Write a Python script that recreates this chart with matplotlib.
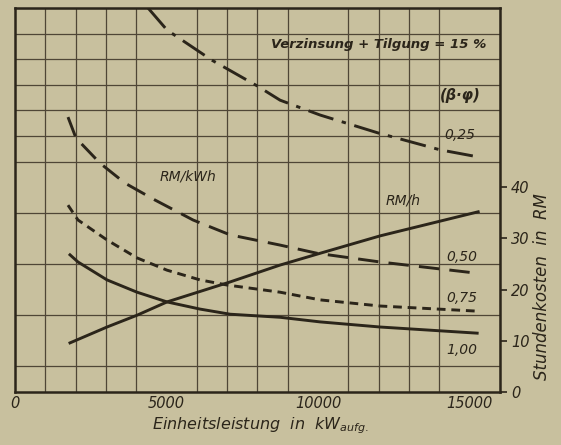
import matplotlib.pyplot as plt

# Einheitsleistung in kW (x) and cost values read in units of the right axis grid
x_025 = [4390, 5016, 6500, 7987, 8746, 10066, 11980, 14026, 15116]
y_025 = [75.0, 70.7, 64.8, 59.8, 57.0, 54.1, 50.6, 47.3, 46.1]

x_050 = [1749, 2013, 2805, 3630, 4620, 5875, 7096, 8746, 9967, 12046, 15248]
y_050 = [53.7, 49.6, 44.7, 40.8, 37.5, 33.6, 30.7, 28.7, 27.1, 25.4, 23.2]

x_075 = [1749, 2079, 3036, 4026, 5016, 6106, 6997, 8746, 10066, 12046, 15248]
y_075 = [36.5, 33.6, 29.7, 26.2, 23.8, 21.9, 20.9, 19.5, 18.0, 16.8, 15.8]

x_100 = [1815, 2079, 3036, 4026, 5016, 6106, 7096, 8746, 10066, 12046, 15248]
y_100 = [26.8, 25.4, 21.9, 19.5, 17.6, 16.2, 15.2, 14.6, 13.7, 12.7, 11.5]

x_rmh = [1815, 3036, 4026, 5016, 7096, 8746, 10066, 12046, 15281]
y_rmh = [9.6, 12.7, 15.0, 17.6, 21.5, 24.8, 27.1, 30.5, 35.2]

x_ticks = [0, 5000, 10000, 15000]
x_ticklabels = ["0", "5000", "10000", "15000"]
y_ticks = [0, 10, 20, 30, 40]

paper = "#c8c09e"
ink = "#2b251a"
grid_c = "#4f4636"

fnt = ['DejaVu Sans']

fig = plt.figure(figsize=(5.61, 4.45), dpi=100, facecolor=paper)
ax = fig.add_axes([0.0267, 0.119, 0.8645, 0.863])
ax.set_facecolor(paper)

ax.set_xlim(0, 16000)
ax.set_ylim(0, 75)
ax.set_xticks(range(0, 16001, 1000), minor=True)
ax.set_yticks(range(0, 76, 5), minor=True)
ax.grid(which='minor', color=grid_c, linewidth=0.9)
ax.set_axisbelow(True)

lw = 2.1
ax.plot(x_025, y_025, color=ink, lw=lw, linestyle=(0, (9, 3, 1.5, 3)))
ax.plot(x_050, y_050, color=ink, lw=lw, linestyle=(0, (7, 3.5)))
ax.plot(x_075, y_075, color=ink, lw=lw, linestyle=(0, (3, 2)))
ax.plot(x_100, y_100, color=ink, lw=lw)
ax.plot(x_rmh, y_rmh, color=ink, lw=lw)

for s in ax.spines.values():
    s.set_color(ink)
    s.set_linewidth(1.8)

ax.set_xticks(x_ticks)
ax.set_xticklabels(x_ticklabels, family=fnt, style='italic', fontsize=10.5, color=ink)
ax.tick_params(axis='x', which='both', length=0, pad=3)
ax.yaxis.tick_right()
ax.set_yticks(y_ticks)
ax.set_yticklabels([str(v) for v in y_ticks], family=fnt, style='italic', fontsize=10.5, color=ink)
ax.tick_params(axis='y', which='major', length=5, width=1.2, color=ink, pad=3)
ax.tick_params(axis='y', which='minor', length=0)

tk = dict(family=fnt, style='italic', color=ink, fontsize=10)
ax.text(14690, 50.2, "0,25", ha='center', va='center', **tk)
ax.text(14750, 26.4, "0,50", ha='center', va='center', **tk)
ax.text(14750, 18.4, "0,75", ha='center', va='center', **tk)
ax.text(14750, 8.2, "1,00", ha='center', va='center', **tk)
ax.text(14690, 58.0, "(β·φ)", ha='center', va='center', fontsize=10.5, family=fnt,
        style='italic', weight='bold', color=ink)
ax.text(12000, 67.8, "Verzinsung + Tilgung = 15 %", ha='center', va='center', fontsize=9.5,
        family=fnt, style='italic', weight='bold', color=ink)
ax.text(5700, 42.0, "RM/kWh", ha='center', va='center', **tk)
ax.text(12800, 37.5, "RM/h", ha='center', va='center', **tk)

fig.text(0.465, 0.043, "Einheitsleistung  in  kW$_{aufg.}$", ha='center', va='center',
         family=fnt, style='italic', fontsize=11.5, color=ink)
fig.text(0.966, 0.355, "Stundenkosten  in  RM", ha='center', va='center', rotation=90,
         family=fnt, style='italic', fontsize=12, color=ink)

fig.savefig("out.png", dpi=100, facecolor=paper)
